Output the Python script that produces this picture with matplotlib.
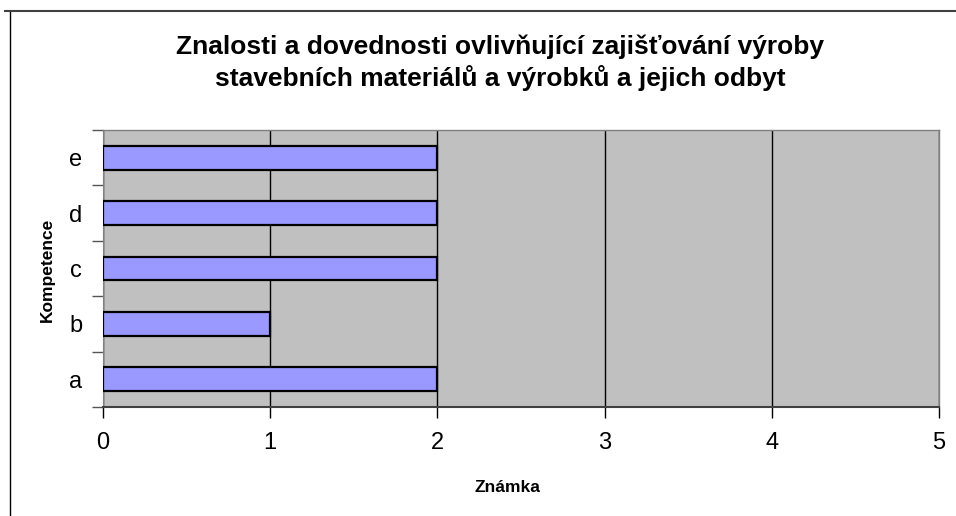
import numpy as np
import matplotlib.pyplot as plt
from matplotlib.lines import Line2D

plt.rcParams['font.family'] = ['Liberation Sans', 'DejaVu Sans']

categories = ['a', 'b', 'c', 'd', 'e']
values = [2, 1, 2, 2, 2]
x_ticks = [0, 1, 2, 3, 4, 5]

W, H = 956, 516
fig = plt.figure(figsize=(W / 100, H / 100), dpi=100)

# plot area in pixels
left, right, top, bottom = 103, 939, 130, 407
ax = fig.add_axes([left / W, 1 - bottom / H, (right - left) / W, (bottom - top) / H])
ax.set_facecolor('#c0c0c0')

y = np.arange(len(categories))
ax.barh(y, values, height=0.43, color='#9999ff', edgecolor='black', linewidth=1.6, zorder=3)

ax.set_xlim(0, 5)
ax.set_ylim(-0.5, len(categories) - 0.5)
ax.set_xticks(x_ticks)
ax.set_xticklabels([str(t) for t in x_ticks], fontsize=17)
ax.set_yticks(y)
ax.set_yticklabels(categories, fontsize=17)
ax.set_yticks(np.arange(len(categories) + 1) - 0.5, minor=True)
ax.tick_params(axis='y', which='major', length=0, pad=15)
ax.tick_params(axis='y', which='minor', length=8, width=1, color='#555555')
ax.tick_params(axis='x', length=8, width=1, color='black', pad=10)
ax.xaxis.grid(True, color='black', linewidth=1, zorder=1)
ax.set_axisbelow(True)

for s in ['top', 'right']:
    ax.spines[s].set_color('#808080')
    ax.spines[s].set_linewidth(1)
ax.spines['left'].set_color('#808080')
ax.spines['bottom'].set_color('#404040')
ax.spines['bottom'].set_linewidth(1.5)

fig.text(507 / W, 1 - 487 / H, 'Známka', ha='center', va='center',
         fontsize=12.5, fontweight='bold')
fig.text(47 / W, 1 - 270 / H, 'Kompetence', ha='center', va='center',
         rotation=90, fontsize=12.5, fontweight='bold')

fig.text(500 / W, 1 - 47 / H,
         'Znalosti a dovednosti ovlivňující zajišťování výroby',
         ha='center', va='center', fontsize=19, fontweight='bold')
fig.text(500 / W, 1 - 78 / H,
         'stavebních materiálů a výrobků a jejich odbyt',
         ha='center', va='center', fontsize=19, fontweight='bold')

# chart frame
fig.add_artist(Line2D([10 / W, 10 / W], [0, 1 - 11 / H], transform=fig.transFigure, color='black', lw=1))
fig.add_artist(Line2D([5 / W, 1], [1 - 11 / H, 1 - 11 / H], transform=fig.transFigure, color='#404040', lw=1.5))

fig.savefig('out.png', dpi=100)
